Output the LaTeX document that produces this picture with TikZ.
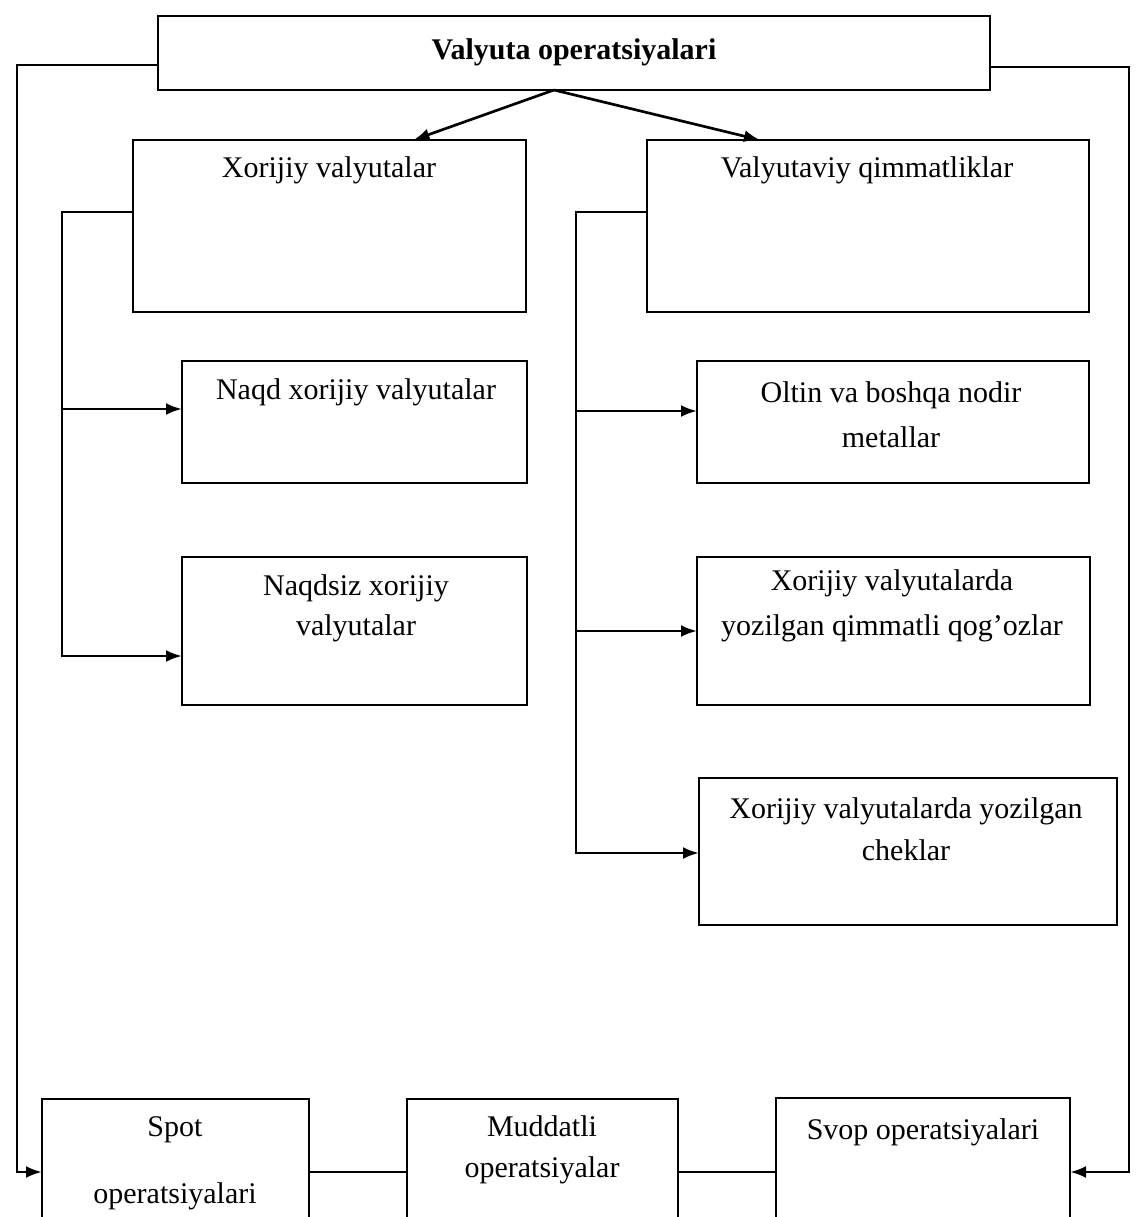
\documentclass[tikz,border=0pt]{standalone}
\usepackage{fontspec}
\setmainfont{Liberation Serif}
\usetikzlibrary{arrows.meta,calc,fit}

\tikzset{
  box/.style={draw, rectangle, line width=1.8pt, inner sep=0pt, outer sep=0pt},
  lbl/.style={font=\fontsize{22.5pt}{#1}\selectfont, align=center, inner sep=0pt},
  lbl/.default=31.5pt,
  wire/.style={line width=2pt},
  arr/.style={wire, -{Latex[length=12pt,width=9pt]}},
}

\begin{document}
\begin{tikzpicture}[x=0.75pt, y=-0.75pt]
\useasboundingbox (0,0) rectangle (1135,1217);
\clip (0,0) rectangle (1135,1217);

% boxes
\node[box, fit={(158,16)(990,90)}] (top) {};
\node[box, fit={(133,140)(526,312)}] (xv) {};
\node[box, fit={(647,140)(1089,312)}] (vq) {};
\node[box, fit={(182,361)(527,483)}] (naqd) {};
\node[box, fit={(182,557)(527,705)}] (naqdsiz) {};
\node[box, fit={(697,361)(1089,483)}] (oltin) {};
\node[box, fit={(697,557)(1090,705)}] (qogoz) {};
\node[box, fit={(699,778)(1117,925)}] (chek) {};
\node[box, fit={(42,1099)(309,1260)}] (spot) {};
\node[box, fit={(407,1099)(678,1260)}] (mudd) {};
\node[box, fit={(776,1098)(1070,1260)}] (svop) {};

% texts
\node[lbl, font=\fontsize{22.5pt}{31.5pt}\selectfont\bfseries] (ttop) at (574,52) {Valyuta operatsiyalari};
\node[lbl] (txv) at (329,170) {Xorijiy valyutalar};
\node[lbl] (tvq) at (867,170) {Valyutaviy qimmatliklar};
\node[lbl] (tnaqd) at (356,392) {Naqd xorijiy valyutalar};
\node[lbl=30pt] (tnaqdsiz) at (356,608) {Naqdsiz xorijiy\\valyutalar};
\node[lbl=33.75pt] (toltin) at (891,414.5) {Oltin va boshqa nodir\\metallar};
\node[lbl=33.75pt] (tqogoz) at (892,605.5) {Xorijiy valyutalarda\\yozilgan qimmatli qog'ozlar};
\node[lbl=31.5pt] (tchek) at (906,829) {Xorijiy valyutalarda yozilgan\\cheklar};
\node[lbl=50.25pt] (tspot) at (175,1163.5) {Spot\\operatsiyalari};
\node[lbl=30.75pt] (tmudd) at (542,1149.5) {Muddatli\\operatsiyalar};
\node[lbl] (tsvop) at (923,1132) {Svop operatsiyalari};

% top box to the two groups
\coordinate (fork) at ($(top.south)+(-20,0)$);
\draw[arr] (fork) -- ($(xv.north)+(84,0)$);
\draw[arr] (fork) -- ($(vq.north)+(-108,0)$);

% left group bracket
\coordinate (lspine) at (62,0);
\coordinate (naqdin) at ($(naqd.north west)+(0,48)$);
\draw[arr] ($(xv.north west)+(0,72)$) -- ++(-71,0) |- ($(naqdsiz.north west)+(0,99)$);
\draw[arr] (naqdin -| lspine) -- (naqdin);

% right group bracket
\coordinate (rspine) at (576,0);
\coordinate (oltinin) at ($(oltin.north west)+(0,50)$);
\coordinate (qogozin) at ($(qogoz.north west)+(0,74)$);
\draw[arr] ($(vq.north west)+(0,72)$) -- ++(-71,0) |- ($(chek.north west)+(0,75)$);
\draw[arr] (oltinin -| rspine) -- (oltinin);
\draw[arr] (qogozin -| rspine) -- (qogozin);

% outer loops to the operation types
\draw[arr] ($(top.north west)+(0,49)$) -- ++(-141,0) |- ($(spot.north west)+(0,73)$);
\draw[arr] ($(top.north east)+(0,51)$) -- ++(139,0) |- ($(svop.north east)+(0,74)$);

% links between the operation types
\draw[wire] ($(spot.north east)+(0,73)$) -- ($(mudd.north west)+(0,73)$);
\draw[wire] ($(mudd.north east)+(0,73)$) -- ($(svop.north west)+(0,74)$);
\end{tikzpicture}
\end{document}
